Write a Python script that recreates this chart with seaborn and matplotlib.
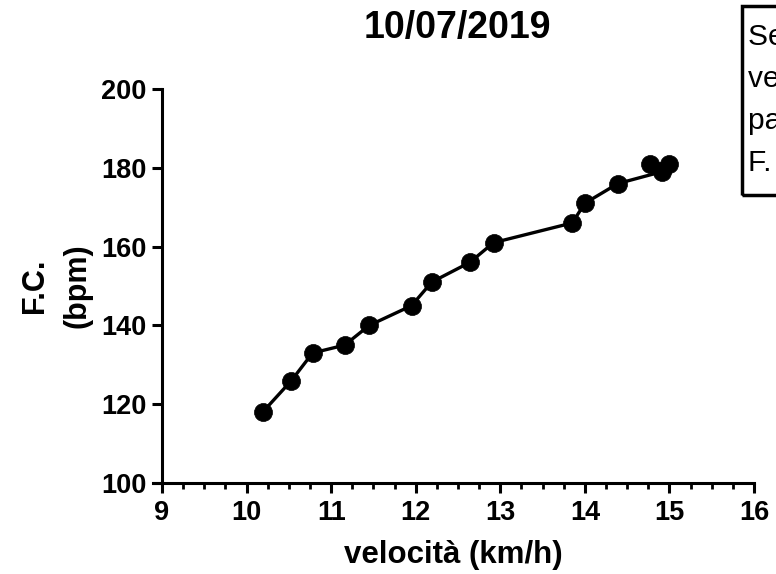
import matplotlib
matplotlib.use("Agg")
import matplotlib.pyplot as plt
import seaborn as sns
import pandas as pd
from matplotlib.ticker import MultipleLocator
from matplotlib.patches import Rectangle

# Running test: speed vs heart rate
velocita = [10.19, 10.53, 10.78, 11.16, 11.45, 11.95, 12.19, 12.64, 12.92,
            13.85, 14.00, 14.39, 14.91, 14.77, 14.99]
fc = [118, 126, 133, 135, 140, 145, 151, 156, 161, 166, 171, 176, 179, 181, 181]
x_ticks = [9, 10, 11, 12, 13, 14, 15, 16]
y_ticks = [100, 120, 140, 160, 180, 200]
title = "10/07/2019"
box_lines = ["Seconda soglia", "velocità 14,0 km/h", "passo 4'17\"/km", "F. C. 171 bpm"]

df = pd.DataFrame({"velocita": velocita, "fc": fc})

sns.set_style("ticks")
plt.rcParams["font.family"] = ["Liberation Sans", "DejaVu Sans"]
plt.rcParams["text.color"] = "black"
plt.rcParams["axes.labelcolor"] = "black"
plt.rcParams["xtick.color"] = "black"
plt.rcParams["ytick.color"] = "black"

W, H = 776, 574
fig = plt.figure(figsize=(W / 100, H / 100), dpi=100)
ax = fig.add_axes([153 / W, (H - 483) / H, 601 / W, (483 - 89) / H])

sns.lineplot(data=df, x="velocita", y="fc", sort=False, ax=ax, color="black",
             linewidth=2.4, marker="o", markersize=13, markeredgecolor="black",
             markerfacecolor="black", markeredgewidth=0.5)

ax.set_xlim(8.893, 16)
ax.set_ylim(100, 200)
ax.spines["left"].set_position(("data", 9))
ax.spines["bottom"].set_position(("data", 100))
ax.spines["right"].set_visible(False)
ax.spines["top"].set_visible(False)
for s in ("left", "bottom"):
    ax.spines[s].set_linewidth(2.2)
    ax.spines[s].set_color("black")

ax.set_xticks(x_ticks)
ax.set_yticks(y_ticks)
ax.xaxis.set_minor_locator(MultipleLocator(0.25))
ax.tick_params(axis="both", which="major", length=7.2, width=2.2,
               labelsize=19.5, labelcolor="black")
ax.tick_params(axis="x", which="major", pad=5)
ax.tick_params(axis="y", which="major", pad=4)
ax.tick_params(axis="x", which="minor", length=4.3, width=2.0)
for lab in ax.get_xticklabels() + ax.get_yticklabels():
    lab.set_fontweight("bold")

ax.set_xlabel("velocità (km/h)", fontsize=22.5, fontweight="bold", labelpad=10)
ax.set_ylabel("F.C.\n(bpm)", fontsize=22, fontweight="bold", labelpad=6,
              linespacing=1.55)

fig.text(457 / W, 1 - 28 / H, title, ha="center", va="center",
         fontsize=27, fontweight="bold")

# Annotation box at the top right
fig.patches.append(Rectangle((742 / W, 1 - 195 / H), 0.2, (195 - 6) / H,
                             transform=fig.transFigure, fill=False,
                             edgecolor="black", linewidth=2.5))
for i, line in enumerate(box_lines):
    fig.text(748 / W, 1 - (37 + i * 42) / H, line, ha="left", va="center",
             fontsize=21.5)

fig.savefig("out.png", dpi=100)
